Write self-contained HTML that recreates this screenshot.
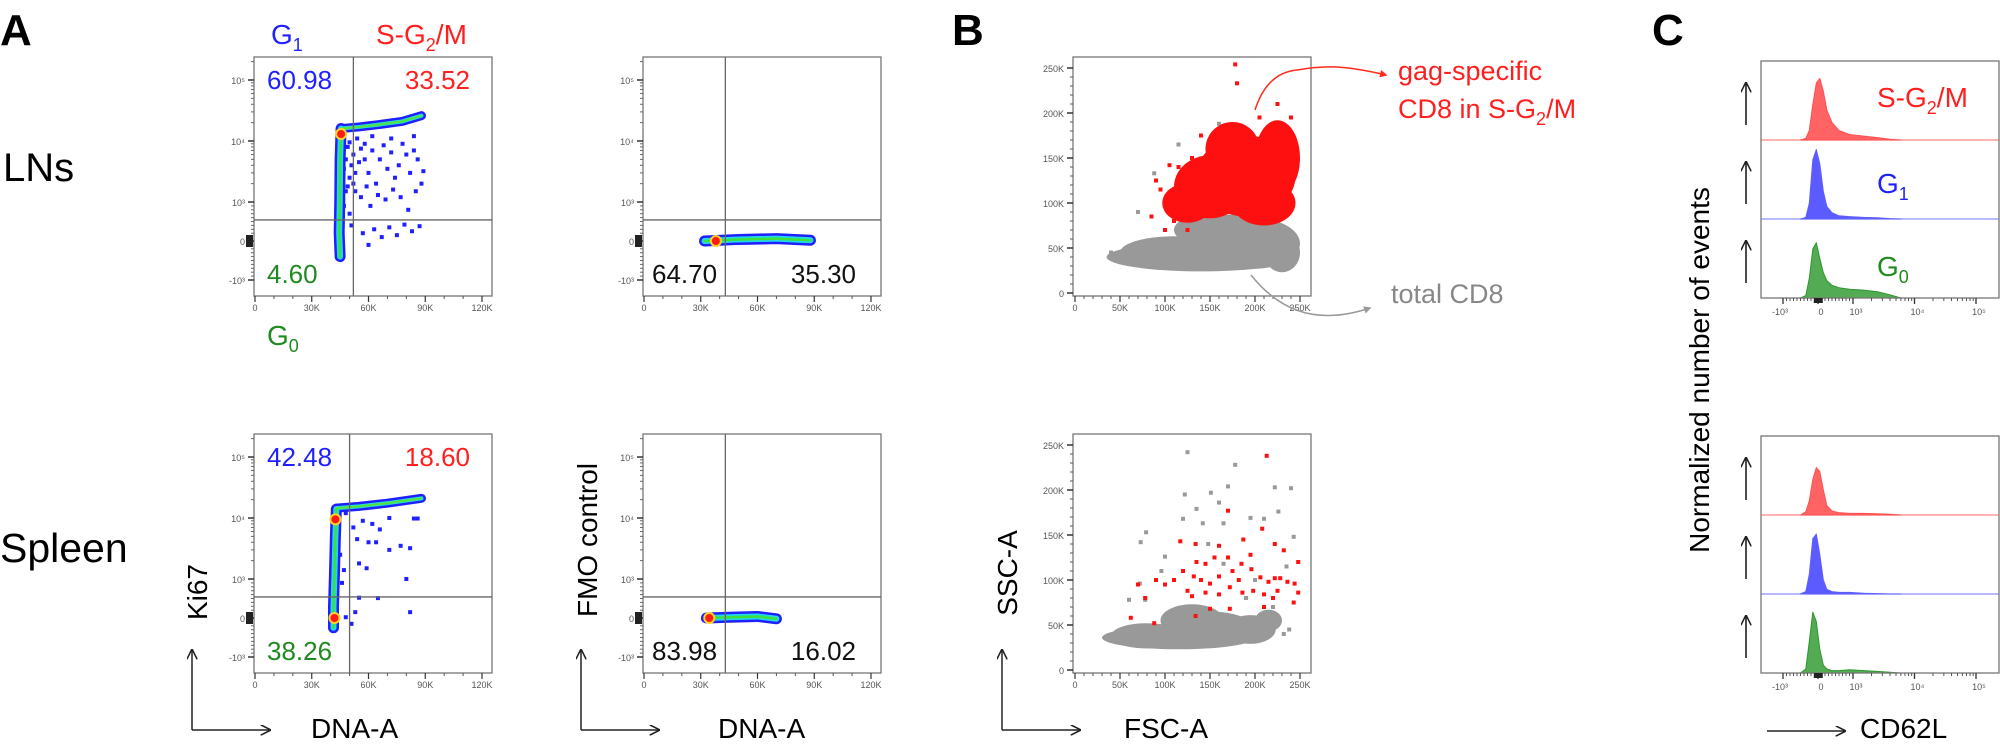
<!DOCTYPE html>
<html><head><meta charset="utf-8"><style>
html,body{margin:0;padding:0;background:#fff;}
svg{display:block;font-family:"Liberation Sans",sans-serif;}
</style></head><body>
<svg id="fig" width="2000" height="753" viewBox="0 0 2000 753" xmlns="http://www.w3.org/2000/svg">
<defs>
<marker id="ah" viewBox="0 0 10 10" refX="9" refY="5" markerWidth="7" markerHeight="7" orient="auto"><path d="M0,0 L10,5 L0,10" fill="none" stroke="#222" stroke-width="1.5"/></marker>
</defs>
<g font-weight="bold" font-size="44" fill="#000">
<text x="0" y="45">A</text>
<text x="952" y="45">B</text>
<text x="1652" y="45">C</text>
</g>
<text x="3" y="181" font-size="40">LNs</text>
<text x="0" y="562" font-size="41">Spleen</text>
<g id="plots"></g>
</svg>
<script>
// ---------- DATA ----------
const aTicksX = [0, 30000, 60000, 90000, 120000];
const aTickLabelsX = ["0", "30K", "60K", "90K", "120K"];
const aTicksY = [-1000, 0, 1000, 10000, 100000];
const aTickLabelsY = ["-10³", "0", "10³", "10⁴", "10⁵"];
const lnKi67Gate = [52000, 540];
const lnFmoGate = [43000, 540];
const spKi67Gate = [50000, 540];
const spFmoGate = [43000, 540];
const lnKi67Pct = ["60.98", "33.52", "4.60"];
const lnFmoPct = ["64.70", "35.30"];
const spKi67Pct = ["42.48", "18.60", "38.26"];
const spFmoPct = ["83.98", "16.02"];
const lnKi67BandV = [[45000,-400],[44500,200],[44800,1000],[45000,5000],[45500,16000]];
const lnKi67BandH = [[45500,16000],[55000,17000],[65000,18500],[78000,21000],[88000,26000]];
const lnKi67Hot = [[45500,13000]];
const lnKi67Scatter = [[49000,8000],[52000,6000],[55000,4500],[58000,9000],[60000,3000],[62000,7000],[64000,2000],[66000,5000],[68000,8500],[70000,3500],[72000,6500],[74000,2500],[76000,4000],[78000,9000],[80000,6000],[82000,3000],[84000,7000],[86000,5000],[88000,2000],[50000,2500],[53000,1500],[56000,1200],[59000,1800],[61000,900],[65000,1300],[69000,1100],[73000,1600],[77000,1200],[81000,800],[85000,1500],[51000,400],[57000,200],[63000,300],[67000,100],[71000,350],[75000,150],[79000,420],[83000,250],[87000,380],[89000,3200],[54000,11000],[62000,12000],[72000,11000],[84000,12000],[47000,3500],[48000,1500],[50000,700],[60000,-100],[48000,5000],[50000,9500],[51000,4000],[53000,3000],[49000,1800],[47000,900],[46000,6000],[56000,7500],[58000,5000],[52000,2000]];
const lnFmoBand = [[32000,0],[50000,40],[70000,60],[88000,20]];
const lnFmoHot = [[38000,0]];
const spKi67BandV = [[41500,-250],[41500,300],[42000,1200],[42500,5000],[43000,14000]];
const spKi67BandH = [[43000,14500],[55000,15500],[70000,17500],[88000,21000]];
const spKi67Hot = [[42000,0],[42500,9500]];
const spKi67Scatter = [[48000,12000],[52000,7000],[57000,9000],[62000,8000],[66000,6500],[71000,10000],[54000,4500],[60000,4000],[64000,4000],[71000,3000],[77000,3500],[82000,3200],[55000,1800],[59000,1500],[80000,1000],[45000,2500],[46000,900],[47000,1400],[53000,150],[51000,-150],[48000,20],[65000,510],[55000,520],[82000,150],[84000,9800],[86000,9800]];
const spFmoBand = [[33000,0],[45000,20],[60000,40],[70000,-20]];
const spFmoHot = [[34500,0]];

const bTicks = [0, 50000, 100000, 150000, 200000, 250000];
const bTickLabels = ["0", "50K", "100K", "150K", "200K", "250K"];
const lnGrayBlobs = [[140000,40000,105000,16000],[110000,45000,60000,18000],[200000,55000,50000,28000],[170000,62000,45000,25000],[230000,45000,20000,22000],[150000,70000,40000,18000]];
const lnRedBlobs = [[190000,130000,55000,45000],[150000,118000,40000,35000],[225000,150000,25000,42000],[125000,100000,28000,22000],[175000,160000,30000,30000],[210000,100000,35000,25000]];
const lnRedScatter = [[178000,254000],[180000,233000],[130000,150000],[90000,125000],[95000,115000],[105000,142000],[115000,140000],[160000,182000],[205000,195000],[240000,195000],[225000,210000],[110000,80000],[125000,70000],[100000,70000],[140000,175000],[85000,85000]];
const lnGrayScatter = [[160000,188000],[115000,165000],[88000,133000],[70000,90000],[65000,50000],[40000,45000]];
const spGrayBlobs = [[115000,36000,85000,13000],[150000,45000,50000,20000],[195000,45000,28000,16000],[130000,55000,35000,18000],[80000,38000,40000,14000],[215000,55000,15000,12000]];
const spGrayScatter = [[125000,242000],[178000,228000],[170000,204000],[222000,203000],[240000,202000],[122000,195000],[151000,197000],[160000,186000],[135000,179000],[226000,176000],[195000,169000],[120000,168000],[210000,168000],[142000,163000],[165000,163000],[79000,153000],[243000,148000],[73000,142000],[148000,140000],[100000,126000],[96000,110000],[72000,96000],[78000,78000],[60000,78000],[165000,118000],[235000,115000],[220000,70000],[238000,45000],[232000,40000],[210000,60000],[190000,80000],[200000,100000]];
const spRedScatter = [[213000,238000],[170000,177000],[208000,157000],[117000,143000],[134000,140000],[160000,138000],[187000,145000],[222000,140000],[232000,133000],[248000,120000],[120000,110000],[135000,120000],[145000,118000],[155000,125000],[170000,125000],[185000,118000],[196000,112000],[206000,103000],[215000,98000],[222000,102000],[228000,102000],[236000,98000],[244000,96000],[248000,86000],[132000,104000],[140000,100000],[150000,96000],[160000,104000],[172000,92000],[186000,86000],[198000,88000],[210000,84000],[220000,80000],[110000,100000],[100000,95000],[90000,100000],[70000,95000],[78000,80000],[62000,58000],[88000,52000],[134000,60000],[150000,68000],[172000,68000],[210000,70000],[243000,75000],[130000,82000],[145000,86000],[160000,84000],[125000,88000],[225000,88000],[182000,100000],[175000,110000],[195000,128000]];

const cTicks = [-1000, 0, 1000, 10000, 100000];
const cTickLabels = ["-10³", "0", "10³", "10⁴", "10⁵"];
const cBins = [-500,-350,-250,-150,-50,50,150,250,400,600,900,1500,2500,4000,6000];
const lnSG2M = [0,0.02,0.12,0.45,0.72,0.78,0.62,0.38,0.22,0.12,0.07,0.05,0.03,0.01,0];
const lnG1   = [0,0.02,0.2,0.75,0.88,0.7,0.35,0.16,0.08,0.04,0.03,0.02,0.015,0.005,0];
const lnG0   = [0,0.03,0.25,0.62,0.7,0.5,0.32,0.22,0.16,0.13,0.11,0.1,0.08,0.04,0];
const spSG2M = [0,0.04,0.18,0.45,0.6,0.55,0.32,0.12,0.05,0.03,0.02,0.02,0.015,0.01,0];
const spG1   = [0,0.03,0.25,0.7,0.76,0.5,0.18,0.06,0.03,0.02,0.02,0.01,0.005,0,0];
const spG0   = [0,0.05,0.4,0.77,0.65,0.3,0.1,0.05,0.03,0.03,0.04,0.03,0.02,0.01,0];

// ---------- DRAWING ----------
const NS = "http://www.w3.org/2000/svg";
const root = document.getElementById('plots');
function el(tag, attrs, parent, txt){
  const e = document.createElementNS(NS, tag);
  for (const k in attrs) e.setAttribute(k, attrs[k]);
  if (txt !== undefined) e.textContent = txt;
  (parent || root).appendChild(e);
  return e;
}
const BLUE="#1f1fff", RED="#ff1f1f", GREEN="#1f8a1f";

function biexY(v){
  if (Math.abs(v) <= 1000) return v*0.039;
  const s = Math.sign(v), l = Math.log10(Math.abs(v));
  return s*(39 + (l-3)*61);
}
function biexC(v){
  if (Math.abs(v) <= 1000) return v*0.035;
  const s = Math.sign(v), l = Math.log10(Math.abs(v));
  if (s<0) return -(35 + (l-3)*8);
  return 35 + (l-3)*61.5;
}

function panelA(x0, y0, gate, pct, band1, band2, hot, scatter, gname){
  const g = el('g', {});
  
  
  const sx = v => x0 + 1 + v*(227/120000);
  const sy = v => y0 + 184 - biexY(v);
  el('rect', {x:x0, y:y0, width:238, height:239, fill:'none', stroke:'#777', 'stroke-width':1.3}, g);
  aTicksX.forEach((t,i)=>{
    el('line',{x1:sx(t),x2:sx(t),y1:y0+239,y2:y0+245,stroke:'#333','stroke-width':1.2},g);
    const tl = el('text',{x:sx(t),y:y0+254,'font-size':9,fill:'#555','text-anchor':'middle'},g,aTickLabelsX[i]);
    
    
  });
  for (let v=10000; v<120000; v+=10000) if (v%30000) el('line',{x1:sx(v),x2:sx(v),y1:y0+239,y2:y0+242,stroke:'#555'},g);
  aTicksY.forEach((t,i)=>{
    el('line',{x1:x0-6,x2:x0,y1:sy(t),y2:sy(t),stroke:'#333','stroke-width':1.5},g);
    const tl = el('text',{x:x0-9,y:sy(t)+4,'font-size':9,fill:'#555','text-anchor':'end'},g,aTickLabelsY[i]);
    
    
  });
  [2,3,4,5,6,7,8,9].forEach(m=>{[1000,10000,100000].forEach(d=>{ if(m*d<=200000) el('line',{x1:x0-3,x2:x0,y1:sy(m*d),y2:sy(m*d),stroke:'#666'},g);});
    el('line',{x1:x0-3,x2:x0,y1:sy(-m*100),y2:sy(-m*100),stroke:'#666'},g);
    el('line',{x1:x0-3,x2:x0,y1:sy(m*100),y2:sy(m*100),stroke:'#666'},g);});
  el('rect',{x:x0-8,y:sy(0)-6,width:7,height:12,fill:'#222'},g);
  const pts = arr => arr.map(p=>sx(p[0])+','+sy(p[1])).join(' ');
  (scatter||[]).forEach(p=>{
    const r = el('rect',{x:sx(p[0])-2,y:sy(p[1])-2,width:4,height:4,fill:BLUE},g);
    
    
  });
  [[band1,BLUE,11],[band2,BLUE,9],[band1,'#22d8e8',6],[band2,'#22e0d0',4],[band1,'#3ce03c',2.5],[band2,'#55e040',2]].forEach(b=>{
    if (!b[0]) return;
    const l = el('polyline',{points:pts(b[0]),fill:'none',stroke:b[1],'stroke-width':b[2],'stroke-linecap':'round','stroke-linejoin':'round'},g);
    
    
  });
  hot.forEach(p=>{
    el('circle',{cx:sx(p[0]),cy:sy(p[1]),r:6,fill:'#ffd21f'},g);
    const c = el('circle',{cx:sx(p[0]),cy:sy(p[1]),r:4,fill:'#ff1a1a'},g);
    
    
  });
  el('line',{x1:sx(gate[0]),x2:sx(gate[0]),y1:y0,y2:y0+239,stroke:'#666','stroke-width':1.3},g);
  el('line',{x1:x0,x2:x0+238,y1:sy(gate[1]),y2:sy(gate[1]),stroke:'#666','stroke-width':1.3},g);
  if (pct.length===3){
    el('text',{x:x0+13,y:y0+32,'font-size':26,fill:BLUE},g,pct[0]);
    el('text',{x:x0+216,y:y0+32,'font-size':26,fill:RED,'text-anchor':'end'},g,pct[1]);
    el('text',{x:x0+13,y:y0+226,'font-size':26,fill:GREEN},g,pct[2]);
  } else {
    el('text',{x:x0+9,y:y0+226,'font-size':26,fill:'#111'},g,pct[0]);
    el('text',{x:x0+213,y:y0+226,'font-size':26,fill:'#111','text-anchor':'end'},g,pct[1]);
  }
}

panelA(254, 57, lnKi67Gate, lnKi67Pct, lnKi67BandV, lnKi67BandH, lnKi67Hot, lnKi67Scatter, 'ln-ki67-plot');
panelA(643, 57, lnFmoGate, lnFmoPct, lnFmoBand, null, lnFmoHot, [], 'ln-fmo-plot');
panelA(254, 434, spKi67Gate, spKi67Pct, spKi67BandV, spKi67BandH, spKi67Hot, spKi67Scatter, 'spleen-ki67-plot');
panelA(643, 434, spFmoGate, spFmoPct, spFmoBand, null, spFmoHot, [], 'spleen-fmo-plot');

function panelB(x0, y0, grayBlobs, redBlobs, grayScatter, redScatter, gname){
  const g = el('g', {});
  
  
  const sx = v => x0 + 2 + v*0.0009;
  const sy = v => y0 + 236 - v*0.0009;
  el('rect',{x:x0,y:y0,width:238,height:239,fill:'none',stroke:'#777','stroke-width':1.3},g);
  bTicks.forEach((t,i)=>{
    el('line',{x1:sx(t),x2:sx(t),y1:y0+239,y2:y0+245,stroke:'#333','stroke-width':1.2},g);
    el('text',{x:sx(t),y:y0+254,'font-size':9,fill:'#555','text-anchor':'middle'},g,bTickLabels[i]);
    el('line',{x1:x0-6,x2:x0,y1:sy(t),y2:sy(t),stroke:'#333','stroke-width':1.5},g);
    el('text',{x:x0-9,y:sy(t)+4,'font-size':9,fill:'#555','text-anchor':'end'},g,bTickLabels[i]);
  });
  for (let v=10000; v<260000; v+=10000) if (v%50000){
    el('line',{x1:sx(v),x2:sx(v),y1:y0+239,y2:y0+242,stroke:'#555'},g);
    el('line',{x1:x0-3,x2:x0,y1:sy(v),y2:sy(v),stroke:'#555'},g);
  }
  grayBlobs.forEach(b=>{
    const e = el('ellipse',{cx:sx(b[0]),cy:sy(b[1]),rx:b[2]*0.0009,ry:b[3]*0.0009,fill:'#999'},g);
    
    
  });
  grayScatter.forEach(p=>{
    const r = el('rect',{x:sx(p[0])-2,y:sy(p[1])-2,width:4,height:4,fill:'#999'},g);
    
    
  });
  redBlobs.forEach(b=>{
    const e = el('ellipse',{cx:sx(b[0]),cy:sy(b[1]),rx:b[2]*0.0009,ry:b[3]*0.0009,fill:'#ff1010'},g);
    
    
  });
  redScatter.forEach(p=>{
    const r = el('rect',{x:sx(p[0])-2,y:sy(p[1])-2,width:4,height:4,fill:'#ff1010'},g);
    
    
  });
}
panelB(1073, 57, lnGrayBlobs, lnRedBlobs, lnGrayScatter, lnRedScatter, 'ln-scatter-plot');
panelB(1073, 434, spGrayBlobs, [], spGrayScatter, spRedScatter, 'spleen-scatter-plot');

function panelC(x0, y0, rows, gname){
  const g = el('g', {});
  
  
  const W = 238, RH = 79;
  const sx = v => x0 + 57 + biexC(v);
  rows.forEach((r, i)=>{
    const base = y0 + RH*(i+1);
    let d = 'M'+sx(cBins[0])+','+base;
    r.vals.forEach((v,j)=>{ d += ' L'+sx(cBins[j]).toFixed(1)+','+(base - v*RH).toFixed(1); });
    d += ' L'+sx(cBins[cBins.length-1])+','+base+' Z';
    const p = el('path',{d:d,fill:r.fill,stroke:r.stroke,'stroke-width':1,'stroke-linejoin':'round'},g);
    
    
    if (i<2) el('line',{x1:x0,x2:x0+W,y1:base,y2:base,stroke:r.stroke,'stroke-width':1.2,opacity:0.7},g);
    const ax = el('line',{x1:x0-15,x2:x0-15,y1:y0+RH*i+64,y2:y0+RH*i+22,stroke:'#111','stroke-width':1.5,'marker-end':'url(#ah)'},g);
    
    
  });
  el('rect',{x:x0,y:y0,width:W,height:RH*3,fill:'none',stroke:'#777','stroke-width':1.3},g);
  const by = y0+RH*3;
  cTicks.forEach((t,i)=>{
    el('line',{x1:sx(t),x2:sx(t),y1:by,y2:by+6,stroke:'#333','stroke-width':1.3},g);
    el('text',{x:sx(t)+(i==0?-3:3),y:by+17,'font-size':9,fill:'#555','text-anchor':'middle'},g,cTickLabels[i]);
  });
  [2,3,4,5,6,7,8,9].forEach(m=>{[100,1000,10000].forEach(d=>{ el('line',{x1:sx(m*d),x2:sx(m*d),y1:by,y2:by+3,stroke:'#555'},g); });
    el('line',{x1:sx(-m*100),x2:sx(-m*100),y1:by,y2:by+3,stroke:'#555'},g);});
  el('rect',{x:sx(-120),y:by,width:9,height:5,fill:'#222'},g);
}
panelC(1761, 61, [
  {vals: lnSG2M, fill:'rgba(255,60,60,0.8)', stroke:'#ff5050', name:'hist-ln-sg2m'},
  {vals: lnG1, fill:'rgba(50,50,255,0.8)', stroke:'#6060ff', name:'hist-ln-g1'},
  {vals: lnG0, fill:'rgba(40,150,40,0.8)', stroke:'#2e962e', name:'hist-ln-g0'}], 'ln-histograms');
panelC(1761, 436, [
  {vals: spSG2M, fill:'rgba(255,60,60,0.8)', stroke:'#ff5050', name:'hist-spleen-sg2m'},
  {vals: spG1, fill:'rgba(50,50,255,0.8)', stroke:'#6060ff', name:'hist-spleen-g1'},
  {vals: spG0, fill:'rgba(40,150,40,0.8)', stroke:'#2e962e', name:'hist-spleen-g0'}], 'spleen-histograms');
</script>
<svg width="2000" height="753" viewBox="0 0 2000 753" style="position:absolute;left:0;top:0;font-family:'Liberation Sans',sans-serif;">
<defs>
<marker id="ah2" viewBox="0 0 10 10" refX="9" refY="5" markerWidth="7" markerHeight="7" orient="auto"><path d="M0,0 L10,5 L0,10" fill="none" stroke="#222" stroke-width="1.5"/></marker>
<marker id="ahr2" viewBox="0 0 10 10" refX="8" refY="5" markerWidth="5" markerHeight="5" orient="auto"><path d="M0,0 L10,5 L0,10 z" fill="#ff2a1a"/></marker>
<marker id="ahg2" viewBox="0 0 10 10" refX="8" refY="5" markerWidth="5" markerHeight="5" orient="auto"><path d="M0,0 L10,5 L0,10 z" fill="#999"/></marker>
</defs>
<text x="271" y="44" font-size="28" fill="#1f1fff">G<tspan font-size="18" dy="7">1</tspan></text>
<text x="376" y="44" font-size="28" fill="#ff1f1f">S-G<tspan font-size="18" dy="7">2</tspan><tspan dy="-7">/M</tspan></text>
<text x="267" y="345" font-size="28" fill="#1f8a1f">G<tspan font-size="18" dy="7">0</tspan></text>
<text transform="translate(207,592) rotate(-90)" text-anchor="middle" font-size="28">Ki67</text>
<text transform="translate(597,540) rotate(-90)" text-anchor="middle" font-size="28">FMO control</text>
<text transform="translate(1017,573) rotate(-90)" text-anchor="middle" font-size="28">SSC-A</text>
<text transform="translate(1709,370) rotate(-90)" text-anchor="middle" font-size="28">Normalized number of events</text>
<text x="311" y="738" font-size="28">DNA-A</text>
<text x="718" y="738" font-size="28">DNA-A</text>
<text x="1124" y="738" font-size="28">FSC-A</text>
<text x="1860" y="738" font-size="28">CD62L</text>
<g stroke="#222" stroke-width="1.5" fill="none">
<path d="M192,730 L192,650" marker-end="url(#ah2)"/><path d="M192,730 L270,730" marker-end="url(#ah2)"/>
<path d="M581,730 L581,650" marker-end="url(#ah2)"/><path d="M581,730 L659,730" marker-end="url(#ah2)"/>
<path d="M1002,730 L1002,650" marker-end="url(#ah2)"/><path d="M1002,730 L1080,730" marker-end="url(#ah2)"/>
<path d="M1767,731 L1845,731" marker-end="url(#ah2)"/>
</g>
<text x="1877" y="107" font-size="28" fill="#ff1f1f">S-G<tspan font-size="18" dy="7">2</tspan><tspan dy="-7">/M</tspan></text>
<text x="1877" y="193" font-size="28" fill="#1f1fff">G<tspan font-size="18" dy="7">1</tspan></text>
<text x="1877" y="276" font-size="28" fill="#1f8a1f">G<tspan font-size="18" dy="7">0</tspan></text>
<path d="M1255,110 C1262,88 1275,72 1297,70 C1320,66 1340,64 1386,75" fill="none" stroke="#ff2a1a" stroke-width="1.5" marker-end="url(#ahr2)"/>
<text font-size="27" fill="#ff1f1f"><tspan x="1398" y="80">gag-specific</tspan><tspan x="1398" y="118">CD8 in S-G</tspan><tspan font-size="18" dy="7">2</tspan><tspan dy="-7">/M</tspan></text>
<path d="M1251,275 C1275,305 1310,328 1370,308" fill="none" stroke="#999" stroke-width="1.5" marker-end="url(#ahg2)"/>
<text x="1391" y="303" font-size="27" fill="#888">total CD8</text>
</svg>
</body></html>
